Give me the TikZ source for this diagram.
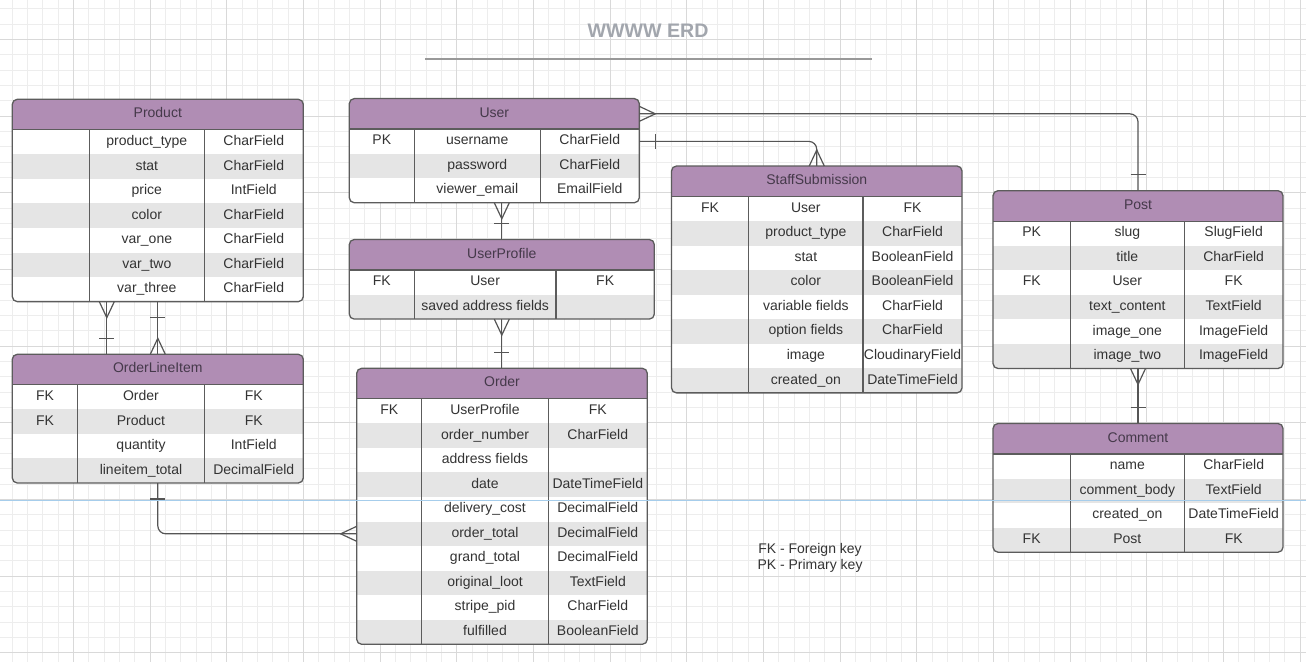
\documentclass[tikz,border=0pt]{standalone}
\usepackage{fontspec}
\setmainfont{Liberation Sans}
\usepackage{tikz}
\usetikzlibrary{calc,fit}

\definecolor{headcol}{HTML}{B08DB4}
\definecolor{headtextcol}{HTML}{45394A}
\definecolor{rowgrey}{HTML}{E5E5E5}
\definecolor{textcol}{HTML}{333333}
\definecolor{bordercol}{HTML}{5C5C5C}
\definecolor{relcol}{HTML}{555555}
\definecolor{gridminor}{HTML}{EDEDED}
\definecolor{gridmajor}{HTML}{D9D9D9}
\definecolor{titlecol}{HTML}{A2A6AD}
\definecolor{guidecol}{HTML}{A6CDEB}

\tikzset{
  headbox/.style={fill=headcol, draw=none, inner sep=0pt, outer sep=0pt},
  rowbox/.style={draw=none, inner sep=0pt, outer sep=0pt},
  celltext/.style={anchor=base, inner sep=0pt, text=textcol, font=\fontsize{7}{8}\selectfont},
  tblline/.style={draw=bordercol, line width=0.65pt},
  relline/.style={draw=relcol, line width=0.6pt},
  tblname/.style={inner sep=0pt, outer sep=0pt}
}

% table: name, left, right, top, col1, col2, rows, title, {key/field/type,...}
\newcommand{\erdtable}[9]{%
  \pgfmathsetmacro\tblhead{#4+30.5}
  \pgfmathsetmacro\tblbot{#4+30.5+#7*24.55}
  \begin{scope}
    \clip[rounded corners=2.5pt] (#2,#4) rectangle (#3,\tblbot);
    \node[headbox, fit={(#2,#4) (#3,\tblhead)}] (#1-h) {};
    \foreach \k/\f/\t [count=\i] in {#9} {
      \pgfmathsetmacro\ya{\tblhead+(\i-1)*24.55}
      \pgfmathsetmacro\yb{\ya+24.55}
      \pgfmathsetmacro\ym{\ya+12.27+3.4}
      \ifodd\i\def\rowcol{white}\else\def\rowcol{rowgrey}\fi
      \node[rowbox, fill=\rowcol, fit={(#2,\ya) (#3,\yb)}] (#1-\i) {};
      \node[celltext] at ({(#2+#5)/2},\ym) {\k};
      \node[celltext] at ({(#5+#6)/2},\ym) {\f};
      \node[celltext] at ({(#6+#3)/2},\ym) {\t};
    }
  \end{scope}
  \node[celltext, text=headtextcol] at ($(#1-h.center)+(0,3.4)$) {#8};
  \draw[tblline] (#2,\tblhead) -- (#3,\tblhead);
  \draw[tblline] (#5,\tblhead) -- (#5,\tblbot) (#6,\tblhead) -- (#6,\tblbot);
  \draw[tblline, rounded corners=2.5pt] (#2,#4) rectangle (#3,\tblbot);
  \node[tblname, fit={(#2,#4) (#3,\tblbot)}] (#1) {};
}

\begin{document}
\begin{tikzpicture}[x=0.5pt, y=-0.5pt]
    \useasboundingbox (0,0) rectangle (1306,662);
    \fill[white] (0,0) rectangle (1306,662);

    % Grid
    \begin{scope}
    \clip (0,0) rectangle (1306,662);
    \foreach \i in {0,...,86} {
      \draw[gridminor, line width=0.4pt] ({-3.33+15.333*\i},0) -- ({-3.33+15.333*\i},662);
    }
    \foreach \j in {0,...,46} {
      \draw[gridminor, line width=0.4pt] (0,{-37.33+15.333*\j}) -- (1306,{-37.33+15.333*\j});
    }
    \foreach \i in {0,...,17} {
      \draw[gridmajor, line width=0.45pt] ({-3.33+76.667*\i},0) -- ({-3.33+76.667*\i},662);
    }
    \foreach \j in {0,...,9} {
      \draw[gridmajor, line width=0.45pt] (0,{-37.33+76.667*\j}) -- (1306,{-37.33+76.667*\j});
    }
    \end{scope}

    % Title
    \node[font=\bfseries\fontsize{9.8}{11}\selectfont, text=titlecol] (title) at (648,31) {WWWW ERD};
    \draw[draw=gray!80, line width=0.6pt] (425,59) -- (872,59);

    % Tables
    \erdtable{product}{12.3}{303.3}{99.3}{89.3}{204.3}{7}{Product}{
      /product\_type/CharField, /stat/CharField, /price/IntField, /color/CharField,
      /var\_one/CharField, /var\_two/CharField, /var\_three/CharField}
    \erdtable{lineitem}{12.3}{303.3}{354.3}{77.7}{204.3}{4}{OrderLineItem}{
      FK/Order/FK, FK/Product/FK, /quantity/IntField, /lineitem\_total/DecimalField}
    \erdtable{user}{349.3}{639.3}{98.6}{414.3}{540.3}{3}{User}{
      PK/username/CharField, /password/CharField, /viewer\_email/EmailField}
    \erdtable{userprofile}{349.3}{654.3}{239.5}{414.3}{556}{2}{UserProfile}{
      FK/User/FK, /saved address fields/}
    \erdtable{order}{356.7}{647.3}{368.3}{421.7}{548.3}{10}{Order}{
      FK/UserProfile/FK, /order\_number/CharField, /address fields/, /date/DateTimeField,
      /delivery\_cost/DecimalField, /order\_total/DecimalField, /grand\_total/DecimalField,
      /original\_loot/TextField, /stripe\_pid/CharField, /fulfilled/BooleanField}
    \erdtable{staff}{671.5}{962}{166}{748.6}{863.1}{8}{StaffSubmission}{
      FK/User/FK, /product\_type/CharField, /stat/BooleanField, /color/BooleanField,
      /variable fields/CharField, /option fields/CharField, /image/CloudinaryField,
      /created\_on/DateTimeField}
    \erdtable{post}{993}{1283}{190.7}{1070.4}{1184.3}{6}{Post}{
      PK/slug/SlugField, /title/CharField, FK/User/FK, /text\_content/TextField,
      /image\_one/ImageField, /image\_two/ImageField}
    \erdtable{comment}{993}{1283}{423.5}{1070.3}{1184.4}{4}{Comment}{
      /name/CharField, /comment\_body/TextField, /created\_on/DateTimeField, FK/Post/FK}

    % Relations
    % User - Post
    \draw[relline, rounded corners=4pt] (user-h.east) -| (post.north);
    \draw[relline] ($(user-h.east)+(0,-7.5)$) -- ($(user-h.east)+(16,0)$) -- ($(user-h.east)+(0,7.5)$);
    \draw[relline] ($(post.north)+(-7.5,-16)$) -- ($(post.north)+(7.5,-16)$);

    % User - StaffSubmission
    \draw[relline, rounded corners=4pt] (user-1.east) -| (staff.north);
    \draw[relline] ($(user-1.east)+(16,-7.5)$) -- ($(user-1.east)+(16,7.5)$);
    \draw[relline] ($(staff.north)+(-7.5,0)$) -- ($(staff.north)+(0,-16)$) -- ($(staff.north)+(7.5,0)$);

    % User - UserProfile
    \coordinate (userfoot) at (user.south -| userprofile.north);
    \draw[relline] (userfoot) -- (userprofile.north);
    \draw[relline] ($(userfoot)+(-7.5,0)$) -- ($(userfoot)+(0,16)$) -- ($(userfoot)+(7.5,0)$);
    \draw[relline] ($(userprofile.north)+(-7.5,-16)$) -- ($(userprofile.north)+(7.5,-16)$);

    % UserProfile - Order
    \coordinate (ordertop) at (userprofile.south |- order.north);
    \draw[relline] (userprofile.south) -- (ordertop);
    \draw[relline] ($(userprofile.south)+(-7.5,0)$) -- ($(userprofile.south)+(0,16)$) -- ($(userprofile.south)+(7.5,0)$);
    \draw[relline] ($(ordertop)+(-7.5,-16)$) -- ($(ordertop)+(7.5,-16)$);

    % Product - OrderLineItem
    \coordinate (prodfoot) at ($(product.south)+(-51,0)$);
    \coordinate (linetop) at (prodfoot |- lineitem.north);
    \draw[relline] (prodfoot) -- (linetop);
    \draw[relline] ($(prodfoot)+(-7.5,0)$) -- ($(prodfoot)+(0,16)$) -- ($(prodfoot)+(7.5,0)$);
    \draw[relline] ($(linetop)+(-7.5,-16)$) -- ($(linetop)+(7.5,-16)$);

    \coordinate (linetopb) at (product.south |- lineitem.north);
    \draw[relline] (product.south) -- (linetopb);
    \draw[relline] ($(product.south)+(-7.5,16)$) -- ($(product.south)+(7.5,16)$);
    \draw[relline] ($(linetopb)+(-7.5,0)$) -- ($(linetopb)+(0,-16)$) -- ($(linetopb)+(7.5,0)$);

    % OrderLineItem - Order
    \draw[relline, rounded corners=4pt] (lineitem.south) |- (order-6.west);
    \draw[relline] ($(lineitem.south)+(-7.5,16)$) -- ($(lineitem.south)+(7.5,16)$);
    \draw[relline] ($(order-6.west)+(0,-7.5)$) -- ($(order-6.west)+(-16,0)$) -- ($(order-6.west)+(0,7.5)$);

    % Post - Comment
    \coordinate (commtop) at (post.south |- comment.north);
    \draw[relline] (post.south) -- (commtop);
    \draw[relline] ($(post.south)+(-7.5,0)$) -- ($(post.south)+(0,16)$) -- ($(post.south)+(7.5,0)$);
    \draw[relline] ($(commtop)+(-7.5,-16)$) -- ($(commtop)+(7.5,-16)$);

    % Keys
    \node[align=center, text=textcol, font=\fontsize{7}{8.35}\selectfont] (keys) at (810,558) {FK - Foreign key\\PK - Primary key};

    % guide line
    \draw[guidecol, line width=0.75pt] (0,500.7) -- (1306,500.7);
\end{tikzpicture}
\end{document}
